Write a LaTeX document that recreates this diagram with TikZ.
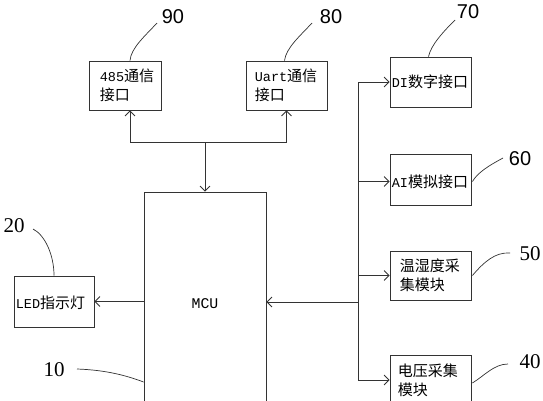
\documentclass[tikz,border=0pt]{standalone}
\usepackage{fontspec}
\newfontfamily\cjk{Noto Sans CJK SC}
\newfontfamily\mono{Liberation Mono}[Scale=0.9]
\newfontfamily\numsans{Liberation Sans}
\newfontfamily\numserif{Liberation Serif}
\usetikzlibrary{arrows.meta,calc}
\begin{document}
\begin{tikzpicture}[x=1pt,y=-1pt,
  line/.style={draw=black!80, line width=0.8pt},
  box/.style={line, inner sep=0pt},
  txt/.style={inner sep=0pt, align=left, anchor=west, font=\cjk\fontsize{15}{19}\selectfont},
  arr/.style={line, -{Straight Barb[length=5pt,width=10pt]}},
  lead/.style={draw=black!80, line width=0.7pt},
  nums/.style={inner sep=0pt, font=\numsans\fontsize{20}{20}\selectfont},
  numr/.style={inner sep=0pt, font=\numserif\fontsize{21}{21}\selectfont}]
\useasboundingbox (0,0) rectangle (543,400);

% boxes
\node[box, minimum width=72pt, minimum height=49pt] (b90) at (125,85.5) {};
\node[box, minimum width=81pt, minimum height=49pt] (b80) at (286.5,85.5) {};
\node[box, minimum width=81pt, minimum height=50pt] (b70) at (430.5,82) {};
\node[box, minimum width=81pt, minimum height=51pt] (b60) at (430.5,179.5) {};
\node[box, minimum width=81pt, minimum height=49pt] (b50) at (430.5,275.5) {};
\node[box, minimum width=81pt, minimum height=50pt] (b40) at (430.5,380) {};
\node[box, minimum width=80pt, minimum height=51pt] (led) at (54,301.5) {};
\node[box, minimum width=122pt, minimum height=224pt, font=\mono\fontsize{16.5}{16.5}\selectfont] (mcu) at (205,304) {MCU};

% box texts
\node[txt] (t90) at ($(b90.west)+(11,0)$) {{\mono 485}通信\\接口};
\node[txt] (t80) at ($(b80.west)+(9,0)$) {{\mono Uart}通信\\接口};
\node[txt] (t70) at ($(b70.west)+(2,0)$) {{\mono DI}数字接口};
\node[txt] (t60) at ($(b60.west)+(2,2)$) {{\mono AI}模拟接口};
\node[txt] (t50) at ($(b50.west)+(10,0)$) {温湿度采\\集模块};
\node[txt] (t40) at ($(b40.west)+(8,0)$) {电压采集\\模块};
\node[txt] (tled) at ($(led.west)+(2,1)$) {{\mono LED}指示灯};

% top connections
\coordinate (j) at (205,142);
\draw[arr] (j) -- (mcu.north);
\draw[arr] (j) -| ([xshift=5pt]b90.south);
\draw[arr] (j) -| (b80.south);

% right bus
\coordinate (bx) at (358,0);
\draw[line] (bx |- b70.west) -- (bx |- b40.west);
\draw[arr] (bx |- b70.west) -- (b70.west);
\draw[arr] ($(bx |- b60.west)+(0,2)$) -- ($(b60.west)+(0,2)$);
\draw[arr] (bx |- b50.west) -- (b50.west);
\draw[arr] (bx |- b40.west) -- (b40.west);
\coordinate (mi) at (358,302);
\draw[arr] (mi) -- (mi -| mcu.east);

% LED
\draw[arr] (mcu.west |- led.east) -- (led.east);

% reference numbers and leaders
\node[nums] (n90) at (173,17) {90};
\node[nums] (n80) at (331,17) {80};
\node[nums] (n70) at (468,12) {70};
\node[nums] (n60) at (520,159) {60};
\node[numr] (n50) at (530,254) {50};
\node[numr] (n40) at (530,362) {40};
\node[numr] (n20) at (14,226) {20};
\node[numr] (n10) at (54,370) {10};

\coordinate (s90) at (157,23);
\coordinate (s80) at (312,23);
\coordinate (s70) at (455,20);
\coordinate (s60) at (503,158);
\coordinate (s50) at (510,253);
\coordinate (s40) at (508,364);
\coordinate (s20) at (33,229);
\coordinate (s10) at (77,369);

\draw[lead] (s90) .. controls (145,36) and (131,48) .. ([xshift=5pt]b90.north);
\draw[lead] (s80) .. controls (300,36) and (286,48) .. ([xshift=-2pt]b80.north);
\draw[lead] (s70) .. controls (443,32) and (431,45) .. ([xshift=-2pt]b70.north);
\draw[lead] (s60) .. controls (490,165) and (478,172) .. ($(b60.east)+(1,2)$);
\draw[lead] (s50) .. controls (495,252) and (484,262) .. ($(b50.east)+(1,0)$);
\draw[lead] (s40) .. controls (494,364) and (484,376) .. ($(b40.east)+(1,3)$);
\draw[lead] (s20) .. controls (45,235) and (54,255) .. (led.north);
\draw[lead] (s10) .. controls (105,370) and (125,375) .. (mcu.west |- 0,382);
\end{tikzpicture}
\end{document}
